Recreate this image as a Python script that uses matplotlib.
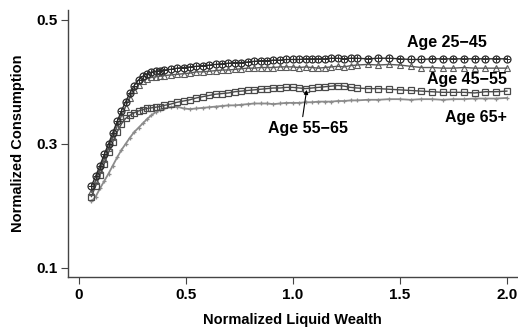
import matplotlib
matplotlib.use('Agg')
import matplotlib.pyplot as plt

plt.rcParams['font.family'] = ['Liberation Sans', 'DejaVu Sans']
plt.rcParams['font.weight'] = 'bold'

# normalized liquid wealth grid
wealth = [0.06, 0.08, 0.10, 0.12, 0.14, 0.16, 0.18, 0.20, 0.22, 0.24, 0.26, 0.28,
          0.30, 0.32, 0.34, 0.36, 0.38, 0.40,
          0.43, 0.46, 0.49, 0.52, 0.55, 0.58, 0.61, 0.64, 0.67, 0.70, 0.73, 0.76,
          0.79, 0.82, 0.85, 0.88, 0.91, 0.94, 0.97, 1.00, 1.03, 1.06, 1.09, 1.12,
          1.15, 1.18, 1.21, 1.24, 1.27, 1.30,
          1.35, 1.40, 1.45, 1.50, 1.55, 1.60, 1.65, 1.70, 1.75, 1.80, 1.85, 1.90,
          1.95, 2.00]

age_25_45 = [0.232, 0.248, 0.265, 0.283, 0.300, 0.318, 0.336, 0.353, 0.368, 0.382, 0.394, 0.403,
             0.409, 0.413, 0.415, 0.417, 0.418, 0.419,
             0.420, 0.422, 0.423, 0.424, 0.425, 0.426, 0.427, 0.428, 0.429, 0.430, 0.431, 0.431,
             0.432, 0.433, 0.434, 0.434, 0.435, 0.435, 0.436, 0.436, 0.436, 0.437, 0.437, 0.437,
             0.437, 0.438, 0.438, 0.437, 0.438, 0.438,
             0.437, 0.438, 0.438, 0.437, 0.436, 0.436, 0.437, 0.437, 0.437, 0.437, 0.437, 0.437,
             0.437, 0.437]

age_45_55 = [0.222, 0.240, 0.257, 0.275, 0.293, 0.311, 0.328, 0.345, 0.360, 0.374, 0.386, 0.395,
             0.401, 0.405, 0.407, 0.408, 0.409, 0.410,
             0.411, 0.412, 0.413, 0.414, 0.416, 0.416, 0.417, 0.418, 0.419, 0.419, 0.420, 0.421,
             0.422, 0.422, 0.423, 0.423, 0.423, 0.424, 0.424, 0.424, 0.423, 0.424, 0.423, 0.422,
             0.423, 0.424, 0.425, 0.424, 0.426, 0.427,
             0.428, 0.427, 0.428, 0.427, 0.425, 0.423, 0.423, 0.422, 0.422, 0.423, 0.422, 0.422,
             0.422, 0.422]

age_55_65 = [0.215, 0.232, 0.250, 0.268, 0.286, 0.303, 0.319, 0.332, 0.341, 0.346, 0.350, 0.353,
             0.355, 0.357, 0.358, 0.359, 0.360, 0.362,
             0.364, 0.367, 0.369, 0.371, 0.374, 0.376, 0.378, 0.380, 0.381, 0.382, 0.384, 0.385,
             0.386, 0.387, 0.388, 0.389, 0.390, 0.390, 0.391, 0.391, 0.390, 0.389, 0.390, 0.391,
             0.392, 0.393, 0.394, 0.393, 0.391, 0.390,
             0.389, 0.389, 0.388, 0.387, 0.386, 0.385, 0.384, 0.383, 0.383, 0.383, 0.382, 0.384,
             0.384, 0.385]

age_65_up = [0.207, 0.215, 0.228, 0.240, 0.252, 0.265, 0.278, 0.290, 0.300, 0.310, 0.319, 0.326,
             0.333, 0.340, 0.346, 0.351, 0.355, 0.357,
             0.359, 0.360, 0.357, 0.356, 0.357, 0.358, 0.359, 0.360, 0.361, 0.362, 0.362, 0.363,
             0.364, 0.365, 0.365, 0.365, 0.364, 0.365, 0.366, 0.366, 0.366, 0.367, 0.367, 0.368,
             0.368, 0.368, 0.369, 0.369, 0.370, 0.370,
             0.371, 0.371, 0.372, 0.372, 0.371, 0.372, 0.372, 0.371, 0.372, 0.372, 0.373, 0.373,
             0.373, 0.374]

fig = plt.figure(figsize=(5.18, 3.28), dpi=100)
ax = fig.add_axes([0.131, 0.155, 0.867, 0.815])

# 65+ first so it sits underneath
ax.plot(wealth, age_65_up, color='#8c8c8c', lw=1.3, marker='+', ms=3.5, mew=0.9)
ax.plot(wealth, age_55_65, color='#4a4a4a', lw=1.0, marker='s', ms=5,
        mfc='none', mew=0.9)
ax.plot(wealth, age_45_55, color='#5a5a5a', lw=1.0, marker='^', ms=4.5,
        mfc='none', mew=0.8)
ax.plot(wealth, age_25_45, color='#2a2a2a', lw=1.0, marker='o', ms=5,
        mfc='none', mew=0.9)
ax.plot(wealth, age_25_45, ls='none', color='#2a2a2a', marker='+', ms=4.5, mew=0.7)

fs = 11.5
ax.text(1.72, 0.464, 'Age 25\u221245', ha='center', va='center', fontsize=fs, fontweight='bold')
ax.text(2.0, 0.403, 'Age 45\u221255', ha='right', va='center', fontsize=fs, fontweight='bold')
ax.text(1.855, 0.343, 'Age 65+', ha='center', va='center', fontsize=fs, fontweight='bold')
ax.annotate('Age 55\u221265', xy=(1.065, 0.387), xytext=(1.07, 0.325),
            ha='center', va='center', fontsize=fs, fontweight='bold',
            arrowprops=dict(arrowstyle='-|>', lw=0.8, color='black',
                            mutation_scale=6, relpos=(0.43, 1.0), shrinkA=1, shrinkB=0))

ax.set_xlim(-0.05, 2.047)
ax.set_ylim(0.085, 0.516)
ax.set_xticks([0, 0.5, 1.0, 1.5, 2.0])
ax.set_xticklabels(['0', '0.5', '1.0', '1.5', '2.0'])
ax.set_yticks([0.1, 0.3, 0.5])
ax.set_yticklabels(['0.1', '0.3', '0.5'])

for s in ['top', 'right']:
    ax.spines[s].set_visible(False)
for s in ['left', 'bottom']:
    ax.spines[s].set_color('#444444')
    ax.spines[s].set_linewidth(1.0)
ax.tick_params(direction='out', length=5, width=0.8, color='#444444',
               labelsize=11, pad=2.5)

ax.set_xlabel('Normalized Liquid Wealth', fontsize=10.5, fontweight='bold', labelpad=8)
ax.set_ylabel('Normalized Consumption', fontsize=10.5, fontweight='bold', labelpad=8)

fig.savefig('out.png', dpi=100)
